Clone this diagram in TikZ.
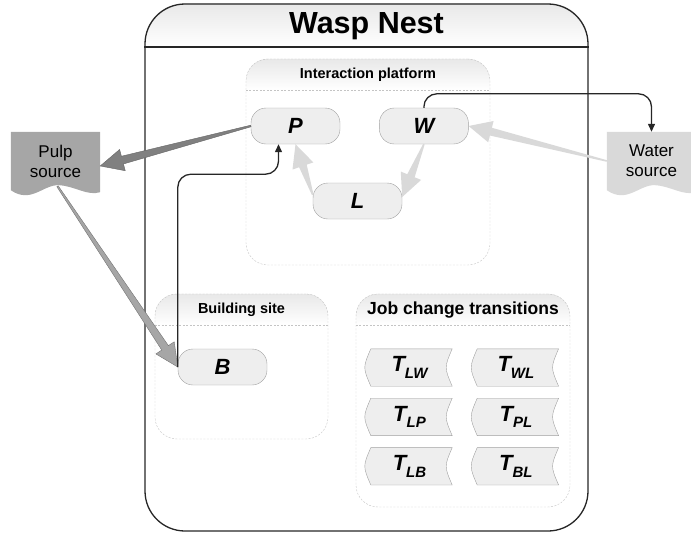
\documentclass[tikz,border=0pt]{standalone}
\usepackage{fontspec}
\setmainfont{Liberation Sans}
\usetikzlibrary{positioning,arrows.meta,calc,backgrounds}

\definecolor{pillfill}{HTML}{EEEEEE}
\definecolor{pillline}{HTML}{A0A0A0}
\definecolor{pulpgray}{HTML}{A6A6A6}
\definecolor{watergray}{HTML}{D9D9D9}
\definecolor{flowlight}{HTML}{D9D9D9}
\definecolor{flowmid}{HTML}{A6A6A6}
\definecolor{flowdark}{HTML}{808080}
\definecolor{panelline}{HTML}{C4C4C4}

% tapered block arrow: style, from, to
\newcommand{\wedgeflow}[3]{%
  \coordinate (wf-s) at (#2);
  \coordinate (wf-e) at (#3);
  \coordinate (wf-h) at ($(wf-e)!23pt!(wf-s)$);
  \filldraw[#1] ($(wf-s)!0.8pt!90:(wf-e)$) -- ($(wf-h)!4pt!90:(wf-e)$)
    -- ($(wf-h)!11pt!90:(wf-e)$) -- (wf-e) -- ($(wf-h)!11pt!-90:(wf-e)$)
    -- ($(wf-h)!4pt!-90:(wf-e)$) -- ($(wf-s)!0.8pt!-90:(wf-e)$) -- cycle;
}
\newcommand{\tsub}[1]{\raisebox{-0.3em}{\fontsize{15}{15}\selectfont #1}}

\begin{document}
\begin{tikzpicture}[x=1pt, y=-1pt,
  every node/.style={font=\bfseries},
  nestbox/.style={draw=black!85, line width=1.3pt, rounded corners=40pt},
  panel/.style={draw=panelline, dash pattern=on 2pt off 1.5pt, rounded corners=22pt},
  pill/.style={
    rectangle, rounded corners=15pt, draw=pillline, fill=pillfill,
    minimum width=89pt, minimum height=36pt,
    font=\bfseries\itshape\fontsize{22}{22}\selectfont
  },
  card/.style={minimum width=85pt, minimum height=37pt,
    font=\bfseries\itshape\fontsize{22}{22}\selectfont},
  cardshape/.style={draw=pillline, fill=pillfill},
  source/.style={minimum width=89pt, minimum height=58pt, align=center,
    font=\fontsize{17}{20}\selectfont},
  link/.style={-{Triangle[length=8pt,width=7pt]}, draw=black!85,
    line width=1.3pt, rounded corners=13pt},
  headshade/.style={top color=black!9, bottom color=white}
]
\useasboundingbox (0,0) rectangle (691,536);

% nest
\node[nestbox, minimum width=443pt, minimum height=527pt] (nest) at (366.5,267.5) {};
\node[font=\bfseries\fontsize{30.5}{30.5}\selectfont] (title) at (366.5,26) {Wasp Nest};
\draw[black!85, line width=1.3pt] (nest.west |- 0,47) -- (nest.east |- 0,47);

% panels
\node[panel, minimum width=244pt, minimum height=206pt] (plat) at (368,162) {};
\node[font=\bfseries\fontsize{14.5}{14.5}\selectfont] (platlbl) at (368,75) {Interaction platform};
\draw[panel] (plat.west |- 0,90) -- (plat.east |- 0,90);

\node[panel, minimum width=173pt, minimum height=145pt] (site) at (241.5,366.5) {};
\node[font=\bfseries\fontsize{14.5}{14.5}\selectfont] (sitelbl) at (241.5,310) {Building site};
\draw[panel] (site.west |- 0,325) -- (site.east |- 0,325);

\node[panel, minimum width=214pt, minimum height=213pt] (jobs) at (463,400.5) {};
\node[font=\bfseries\fontsize{17.5}{17.5}\selectfont] (jobslbl) at (463,310) {Job change transitions};
\draw[panel] (jobs.west |- 0,325) -- (jobs.east |- 0,325);

% jobs
\node[pill] (P) at (295.5,126) {P};
\node[pill, right=39pt of P] (W) {W};
\node[pill] (L) at (357.5,201) {L};
\node[pill] (B) at (222.5,367) {B};

% transitions
\node[card] (tlw) at (409.5,367.5) {T\tsub{LW}};
\node[card, right=21pt of tlw] (twl) {T\tsub{WL}};
\node[card, below=12pt of tlw] (tlp) {T\tsub{LP}};
\node[card, right=21pt of tlp] (tpl) {T\tsub{PL}};
\node[card, below=12pt of tlp] (tlb) {T\tsub{LB}};
\node[card, right=21pt of tlb] (tbl) {T\tsub{BL}};

% sources
\node[source] (pulp) at (55.5,161) {Pulp\\source};
\node[source] (water) at (651.5,161) {Water\\source};

\begin{scope}[on background layer]
  \begin{scope}
    \clip[rounded corners=40pt] (nest.north west) rectangle (nest.south east);
    \shade[headshade] (nest.north west) rectangle (nest.east |- 0,47);
  \end{scope}
  \begin{scope}
    \clip[rounded corners=22pt] (plat.north west) rectangle (plat.south east);
    \shade[headshade] (plat.north west) rectangle (plat.east |- 0,90);
  \end{scope}
  \begin{scope}
    \clip[rounded corners=22pt] (site.north west) rectangle (site.south east);
    \shade[headshade] (site.north west) rectangle (site.east |- 0,325);
  \end{scope}
  \begin{scope}
    \clip[rounded corners=22pt] (jobs.north west) rectangle (jobs.south east);
    \shade[headshade] (jobs.north west) rectangle (jobs.east |- 0,325);
  \end{scope}
  \foreach \n in {tlw,twl,tlp,tpl,tlb,tbl}
    \path[cardshape] ([xshift=4pt]\n.north west) -- (\n.north east)
      .. controls ([xshift=-8pt]\n.east) .. (\n.south east)
      -- ([xshift=4pt]\n.south west)
      .. controls ([xshift=-4pt]\n.west) .. ([xshift=4pt]\n.north west) -- cycle;
  \foreach \n/\c in {pulp/pulpgray, water/watergray}
    \fill[\c] (\n.north west) -- (\n.north east) -- ([shift={(0,2)}]\n.south east)
      .. controls ([shift={(-13,6)}]\n.south east) and ([shift={(-25,-4)}]\n.south east)
      .. ([shift={(-41,-5)}]\n.south east)
      .. controls ([shift={(-57,-6)}]\n.south east) and ([shift={(-69,14)}]\n.south east)
      .. (\n.south west) -- cycle;
\end{scope}

% material flows
\wedgeflow{fill=flowdark, draw=black!60, line width=0.4pt}{P.west}{[shift={(0,5)}]pulp.east}
\wedgeflow{fill=flowmid, draw=black!55, line width=0.4pt}{[shift={(2,-4)}]pulp.south}{B.west}
\wedgeflow{fill=flowlight, draw=none}{water.west}{W.east}
\wedgeflow{fill=flowlight, draw=none}{W.south}{[shift={(0,-4)}]L.east}
\wedgeflow{fill=flowlight, draw=none}{[shift={(0,-6)}]L.west}{P.south}

% forager links
\draw[link] (B.west) |- ([shift={(-17,30)}]P.south) -- ([xshift=-17pt]P.south);
\draw[link] (W.north) -- ++(0,-14) -| (water.north);
\end{tikzpicture}
\end{document}
